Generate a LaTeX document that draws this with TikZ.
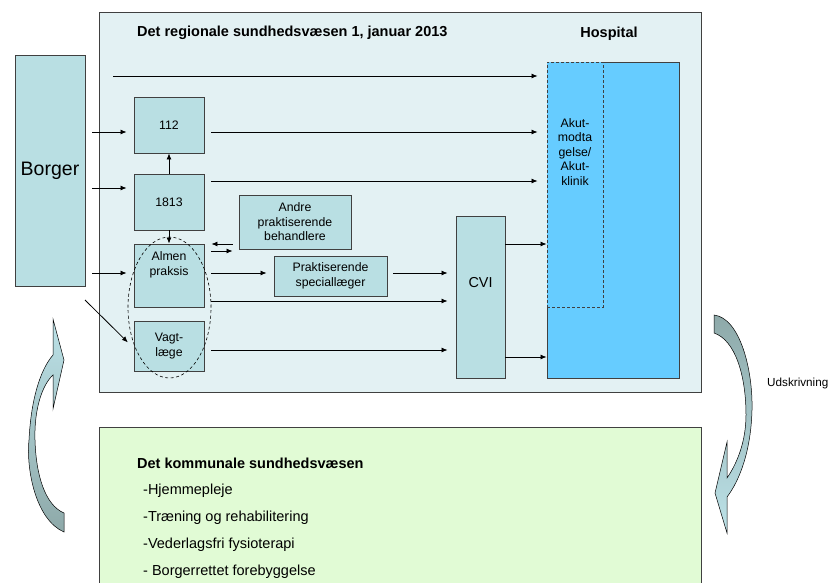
\documentclass[tikz,border=0pt]{standalone}
\usepackage{fontspec}
\setmainfont{Liberation Sans}
\usetikzlibrary{shapes.geometric,arrows.meta}
\definecolor{regfill}{HTML}{E3F1F3}
\definecolor{boxfill}{HTML}{B9DFE3}
\definecolor{hospfill}{HTML}{66CCFF}
\definecolor{komfill}{HTML}{E1FBD5}
\definecolor{bordgrey}{HTML}{404040}
\definecolor{arrgrey}{HTML}{8EA9A9}
\definecolor{arrblue}{HTML}{BCE2E8}
\begin{document}
\begin{tikzpicture}[x=1pt,y=-1pt,
    box/.style={draw=bordgrey,fill=boxfill,line width=0.9pt,inner sep=0pt,
      font=\fontsize{12.3}{14.5}\selectfont,align=center},
    lbl/.style={inner sep=0pt,align=center,font=\fontsize{12.3}{14.5}\selectfont},
    arr/.style={-{Latex[length=6pt,width=5pt]},line width=0.8pt},
    gap/.style={shorten <=7pt,shorten >=7pt},
    bent/.style={draw=black,line width=0.5pt}]
          \useasboundingbox (0,0) rectangle (830,583);
          \clip (0,0) rectangle (830,583);
          \node[draw=bordgrey,fill=regfill,line width=1pt,minimum width=602pt,minimum height=379pt] (reg) at (400,202.5) {};
          \node[draw=bordgrey,fill=komfill,line width=1pt,minimum width=602pt,minimum height=180pt] (kom) at (400,517) {};
          \node[box,minimum width=70pt,minimum height=231pt,font=\fontsize{19.5}{22}\selectfont] (borger) at (50,170.5) {Borger};
          \node[draw=bordgrey,fill=hospfill,line width=0.9pt,minimum width=132pt,minimum height=316pt] (hosp) at (613,220) {};
          \node[draw=bordgrey,fill=hospfill,line width=0.9pt,dash pattern=on 3pt off 2pt,minimum width=56pt,minimum height=245pt] (akut) at (575,184.5) {};
          \node[lbl] (akuttxt) at (575,152) {Akut-\\modta\\gelse/\\Akut-\\klinik};
          \node[box,minimum width=70pt,minimum height=56pt] (n112) at (169,125) {112};
          \node[box,minimum width=70pt,minimum height=56pt] (n1813) at (169,202) {1813};
          \node[box,minimum width=70pt,minimum height=63pt] (almen) at (169,275.5) {};
          \node[lbl] (almentxt) at (169,265) {Almen\\praksis};
          \node[box,minimum width=70pt,minimum height=50pt] (vagt) at (169,346) {Vagt-\\læge};
          \node[box,minimum width=112pt,minimum height=54pt] (andre) at (295,222) {Andre\\praktiserende\\behandlere};
          \node[box,minimum width=113pt,minimum height=40pt] (prakt) at (330.5,276) {Praktiserende\\speciallæger};
          \node[box,minimum width=49pt,minimum height=162pt] (cvi) at (480.5,297) {};
          \node[lbl,font=\fontsize{14.4}{17}\selectfont] (cvitxt) at (480.5,283) {CVI};
          \node[draw,ellipse,dash pattern=on 3pt off 2.5pt,line width=0.6pt,minimum width=83pt,minimum height=141pt,inner sep=0pt] (grp) at (169.5,307.5) {};
          \node[lbl,anchor=west,font=\bfseries\fontsize{14.5}{17}\selectfont] (regtitle) at (137,33) {Det regionale sundhedsvæsen 1, januar 2013};
          \node[lbl,font=\bfseries\fontsize{14.5}{17}\selectfont] (hosptitle) at (609,34) {Hospital};
          \coordinate (top0) at (113,76);
          \draw[arr,shorten >=9pt] (top0) -- (top0 -| akut.west);
          \foreach \t/\y in {n112/132,n1813/188,almen/273}{
            \draw[arr,gap] (borger.east |- 0,\y) -- (\t.west |- 0,\y);}
          \coordinate (diag) at (85,300);
          \draw[arr,shorten >=8pt] (diag) -- (vagt.west |- 0,348);
          \foreach \s/\y in {n112/132,n1813/181}{
            \draw[arr,shorten <=7pt,shorten >=9pt] (\s.east |- 0,\y) -- (akut.west |- 0,\y);}
          \draw[arr] (n1813.north) -- (n112.south);
          \draw[arr] (n1813.south) -- (almen.north);
          \draw[arr,shorten <=6pt,shorten >=7pt] (andre.west |- 0,244) -- (almen.east |- 0,244);
          \draw[arr,shorten <=7pt,shorten >=6pt] (almen.east |- 0,251) -- (andre.west |- 0,251);
          \draw[arr,gap] (almen.east |- 0,273) -- (prakt.west |- 0,273);
          \draw[arr,shorten <=6pt,shorten >=8pt] (prakt.east |- 0,273) -- (cvi.west |- 0,273);
          \foreach \s/\y in {almen/301,vagt/350}{
            \draw[arr,shorten <=7pt,shorten >=8pt] (\s.east |- 0,\y) -- (cvi.west |- 0,\y);}
          \foreach \y in {244,357}{
            \draw[arr] (cvi.east |- 0,\y) -- (hosp.west |- 0,\y);}
          \draw[bent,top color=arrblue,bottom color=arrgrey]
            (64,532) .. controls (36,520) and (26,470) .. (29,440)
            .. controls (31,400) and (40,370) .. (53,355)
            -- (53,319) -- (64,360) -- (53,409) -- (53,375)
            .. controls (42,385) and (34,410) .. (35,440)
            .. controls (36,475) and (45,505) .. (64,513) -- cycle;
          \draw[bent,top color=arrgrey,bottom color=arrblue]
            (714,315) .. controls (740,318) and (753,370) .. (752,410)
            .. controls (751,450) and (740,480) .. (727,497)
            -- (727,533) -- (715,493) -- (727,442) -- (727,478)
            .. controls (738,462) and (746,440) .. (746,415)
            .. controls (746,375) and (735,340) .. (714,333) -- cycle;
          \node[lbl,anchor=west,font=\fontsize{11.7}{14}\selectfont] (udskr) at (767,383) {Udskrivning};
          \node[lbl,anchor=west,font=\bfseries\fontsize{14.5}{17}\selectfont] (komtitle) at (137,463) {Det kommunale sundhedsvæsen};
          \foreach \txt [count=\k] in {-Hjemmepleje,-Træning og rehabilitering,-Vederlagsfri fysioterapi,- Borgerrettet forebyggelse}{
            \node[lbl,anchor=west,font=\fontsize{14.5}{17}\selectfont] (item\k) at (143,464+27*\k) {\txt};}
        \end{tikzpicture}
\end{document}
